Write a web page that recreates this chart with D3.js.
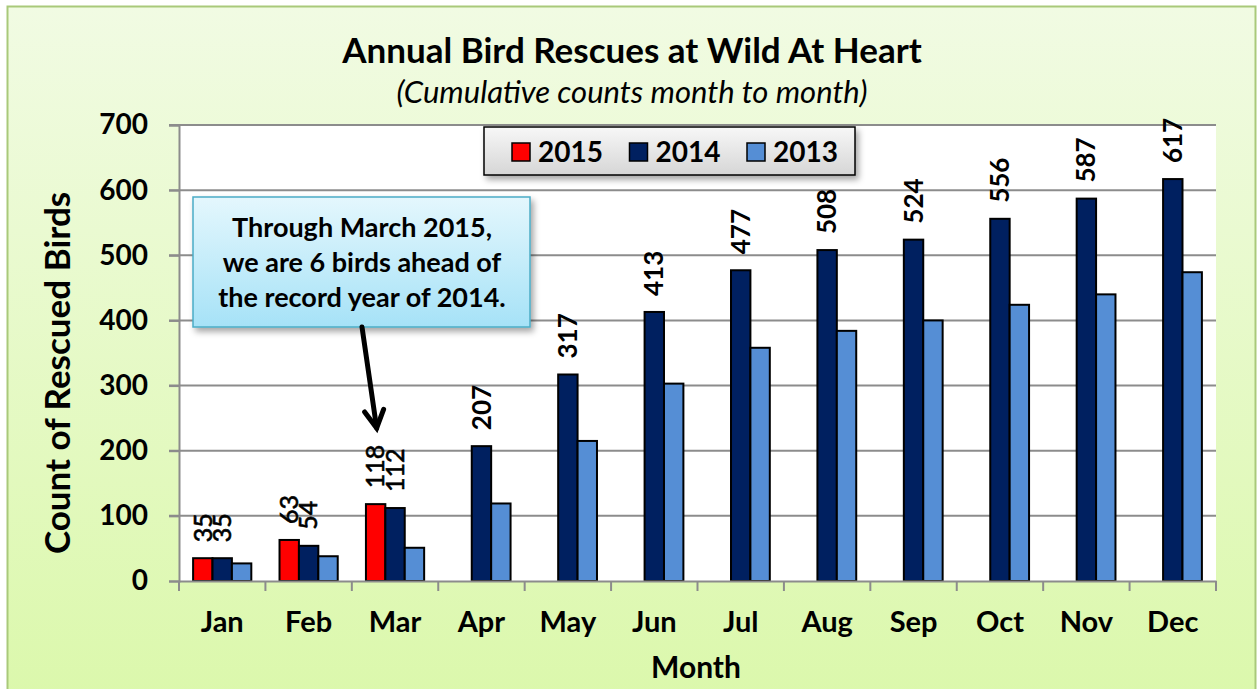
<!DOCTYPE html>
<html>
<head>
<meta charset="utf-8">
<script src="https://cdnjs.cloudflare.com/ajax/libs/d3/7.8.5/d3.min.js"></script>
<style>
  body { margin: 0; background: #fff; }
  text { font-family: Lato, "Open Sans", sans-serif; fill: #000; }
</style>
</head>
<body>
<svg width="1257" height="689"></svg>
<script>
// chart data
var months = ["Jan","Feb","Mar","Apr","May","Jun","Jul","Aug","Sep","Oct","Nov","Dec"];
var years = ["2015","2014","2013"];
var rescues2015 = [35, 63, 118, null, null, null, null, null, null, null, null, null];
var rescues2014 = [35, 54, 112, 207, 317, 413, 477, 508, 524, 556, 587, 617];
var rescues2013 = [27, 38, 51, 119, 215, 303, 358, 384, 400, 424, 440, 474];
var yTicks = [0, 100, 200, 300, 400, 500, 600, 700];
var noteLines = ["Through March 2015,", "we are 6 birds ahead of", "the record year of 2014."];

var colors = { "2015": "#ff0000", "2014": "#002060", "2013": "#558ed5" };
var labelled = { "2015": true, "2014": true, "2013": false };

var series = {
  "2015": rescues2015,
  "2014": rescues2014,
  "2013": rescues2013
};

var svg = d3.select("svg");
var defs = svg.append("defs");

var bg = defs.append("linearGradient").attr("id", "bg").attr("x1", 0).attr("y1", 0).attr("x2", 0).attr("y2", 1);
bg.append("stop").attr("offset", "0%").attr("stop-color", "#f1fbe3");
bg.append("stop").attr("offset", "100%").attr("stop-color", "#dbf8ab");

var lg = defs.append("linearGradient").attr("id", "lg").attr("x1", 0).attr("y1", 0).attr("x2", 0).attr("y2", 1);
lg.append("stop").attr("offset", "0%").attr("stop-color", "#f7f7f7");
lg.append("stop").attr("offset", "100%").attr("stop-color", "#d6d6d6");

var cg = defs.append("linearGradient").attr("id", "cg").attr("x1", 0).attr("y1", 0).attr("x2", 0).attr("y2", 1);
cg.append("stop").attr("offset", "0%").attr("stop-color", "#e4f7fd");
cg.append("stop").attr("offset", "100%").attr("stop-color", "#a6e2f7");

var sh = defs.append("filter").attr("id", "shadow").attr("x", "-10%").attr("y", "-10%").attr("width", "130%").attr("height", "140%");
sh.append("feDropShadow").attr("dx", 3).attr("dy", 4).attr("stdDeviation", 3).attr("flood-color", "#000").attr("flood-opacity", 0.35);

// outer frame
svg.append("rect")
  .attr("x", 7.5).attr("y", 6.5).attr("width", 1248).attr("height", 700)
  .attr("fill", "url(#bg)")
  .attr("stroke", "#a9c97a").attr("stroke-width", 2);

var margin = { left: 179, top: 125, right: 1216, bottom: 581 };

var x = d3.scaleBand().domain(months).range([margin.left, margin.right]).paddingInner(0).paddingOuter(0);
var inner = d3.scaleBand().domain(years).range([0, x.bandwidth()]).paddingInner(0).paddingOuter(0.727);
var y = d3.scaleLinear().domain([0, 700]).range([margin.bottom, margin.top]);

// plot area
svg.append("rect")
  .attr("x", margin.left).attr("y", margin.top)
  .attr("width", margin.right - margin.left).attr("height", margin.bottom - margin.top)
  .attr("fill", "#fff");

// grid
svg.append("g").selectAll("line").data(yTicks.slice(1)).enter().append("line")
  .attr("x1", margin.left - 10).attr("x2", margin.right)
  .attr("y1", function(d) { return y(d); }).attr("y2", function(d) { return y(d); })
  .attr("stroke", "#8c8c8c").attr("stroke-width", 2);

// y axis
var yAxis = svg.append("g").attr("transform", "translate(" + margin.left + ",0)")
  .call(d3.axisLeft(y).tickValues(yTicks).tickSize(10).tickPadding(21));
yAxis.selectAll("line").attr("stroke", "#8c8c8c").attr("stroke-width", 2);
yAxis.select(".domain").attr("stroke", "#8c8c8c").attr("stroke-width", 2);
yAxis.selectAll("text").attr("font-size", 28).attr("font-weight", "bold")
  .attr("font-family", "Lato, sans-serif").attr("fill", "#000");

// bars
var bars = [];
months.forEach(function(m, i) {
  years.forEach(function(yr) {
    var v = series[yr][i];
    if (v != null) bars.push({ month: m, year: yr, value: v, idx: i });
  });
});

svg.append("g").selectAll("rect").data(bars).enter().append("rect")
  .attr("x", function(d) { return x(d.month) + inner(d.year); })
  .attr("y", function(d) { return y(d.value); })
  .attr("width", inner.bandwidth())
  .attr("height", function(d) { return y(0) - y(d.value); })
  .attr("fill", function(d) { return colors[d.year]; })
  .attr("stroke", "#000").attr("stroke-width", 2);

// x axis
var xAxis = svg.append("g").attr("transform", "translate(0," + margin.bottom + ")")
  .call(d3.axisBottom(x).tickSize(0).tickPadding(30));
xAxis.select(".domain").attr("stroke", "#8c8c8c").attr("stroke-width", 2);
xAxis.selectAll("text").attr("font-size", 29).attr("font-weight", "bold")
  .attr("font-family", "Lato, sans-serif").attr("fill", "#000");
var bounds = months.map(function(m) { return x(m); }).concat([margin.right]);
svg.append("g").selectAll("line").data(bounds).enter().append("line")
  .attr("x1", function(d) { return d; }).attr("x2", function(d) { return d; })
  .attr("y1", margin.bottom).attr("y2", margin.bottom + 10)
  .attr("stroke", "#8c8c8c").attr("stroke-width", 2);

// value labels
svg.append("g").selectAll("text").data(bars.filter(function(d) { return labelled[d.year]; })).enter().append("text")
  .attr("transform", function(d) {
    return "translate(" + (x(d.month) + inner(d.year) + inner.bandwidth() / 2) + "," + (y(d.value) - 16) + ") rotate(-90)";
  })
  .attr("dy", "0.35em")
  .attr("font-size", function(d) { return d.idx < 3 ? 25 : 26; })
  .attr("font-family", function(d) { return d.idx < 3 ? "'Liberation Sans', sans-serif" : "Lato, sans-serif"; })
  .attr("font-weight", "normal")
  .attr("font-weight", function(d) { return d.idx < 3 ? "normal" : "bold"; })
  .attr("stroke", function(d) { return d.idx < 3 ? "#000" : "none"; })
  .attr("stroke-width", 0.6)
  .text(function(d) { return d.value; });

// titles
svg.append("text").attr("x", 632).attr("y", 63).attr("text-anchor", "middle")
  .attr("font-size", 35).attr("font-weight", "bold")
  .text("Annual Bird Rescues at Wild At Heart");
svg.append("text").attr("x", 632).attr("y", 103).attr("text-anchor", "middle")
  .attr("font-size", 31).attr("font-style", "italic")
  .text("(Cumulative counts month to month)");
svg.append("text").attr("x", 696).attr("y", 678).attr("text-anchor", "middle")
  .attr("font-size", 30).attr("font-weight", "bold")
  .text("Month");
svg.append("text").attr("transform", "translate(70,373) rotate(-90)").attr("text-anchor", "middle")
  .attr("font-size", 35).attr("font-weight", "bold")
  .text("Count of Rescued Birds");

// legend
var legend = svg.append("g");
legend.append("rect").attr("x", 484).attr("y", 127).attr("width", 371).attr("height", 48)
  .attr("fill", "url(#lg)").attr("stroke", "#000").attr("stroke-width", 1.5)
  .attr("filter", "url(#shadow)");
var legX = d3.scalePoint().domain(years).range([512, 747]);
var item = legend.selectAll("g.item").data(years).enter().append("g").attr("class", "item")
  .attr("transform", function(d) { return "translate(" + legX(d) + ",0)"; });
item.append("rect").attr("x", 0).attr("y", 143).attr("width", 18).attr("height", 18)
  .attr("fill", function(d) { return colors[d]; }).attr("stroke", "#000").attr("stroke-width", 1.5);
item.append("text").attr("x", 26).attr("y", 162).attr("font-size", 28).attr("font-weight", "bold")
  .text(function(d) { return d; });

// callout
var note = svg.append("g");
note.append("rect").attr("x", 193).attr("y", 197).attr("width", 337).attr("height", 130)
  .attr("fill", "url(#cg)").attr("stroke", "#4bacc6").attr("stroke-width", 1.5)
  .attr("filter", "url(#shadow)");
note.selectAll("text").data(noteLines).enter().append("text")
  .attr("x", 362).attr("y", function(d, i) { return 237 + i * 35; })
  .attr("text-anchor", "middle").attr("font-size", 27).attr("font-weight", "bold")
  .text(function(d) { return d; });

// arrow from the note to March
var ax1 = 362, ay1 = 327, ax2 = x("Mar") + inner("2015") + inner.bandwidth() / 2 + 1, ay2 = 428;
var ang = Math.atan2(ay2 - ay1, ax2 - ax1);
var head = 20;
var arrow = svg.append("g").attr("stroke", "#000").attr("stroke-width", 5).attr("fill", "none")
  .attr("stroke-linecap", "round");
arrow.append("line").attr("x1", ax1).attr("y1", ay1).attr("x2", ax2).attr("y2", ay2);
arrow.append("path").attr("d", d3.line()([
  [ax2 - head * Math.cos(ang - 0.5), ay2 - head * Math.sin(ang - 0.5)],
  [ax2, ay2],
  [ax2 - head * Math.cos(ang + 0.5), ay2 - head * Math.sin(ang + 0.5)]
]));
</script>
</body>
</html>
